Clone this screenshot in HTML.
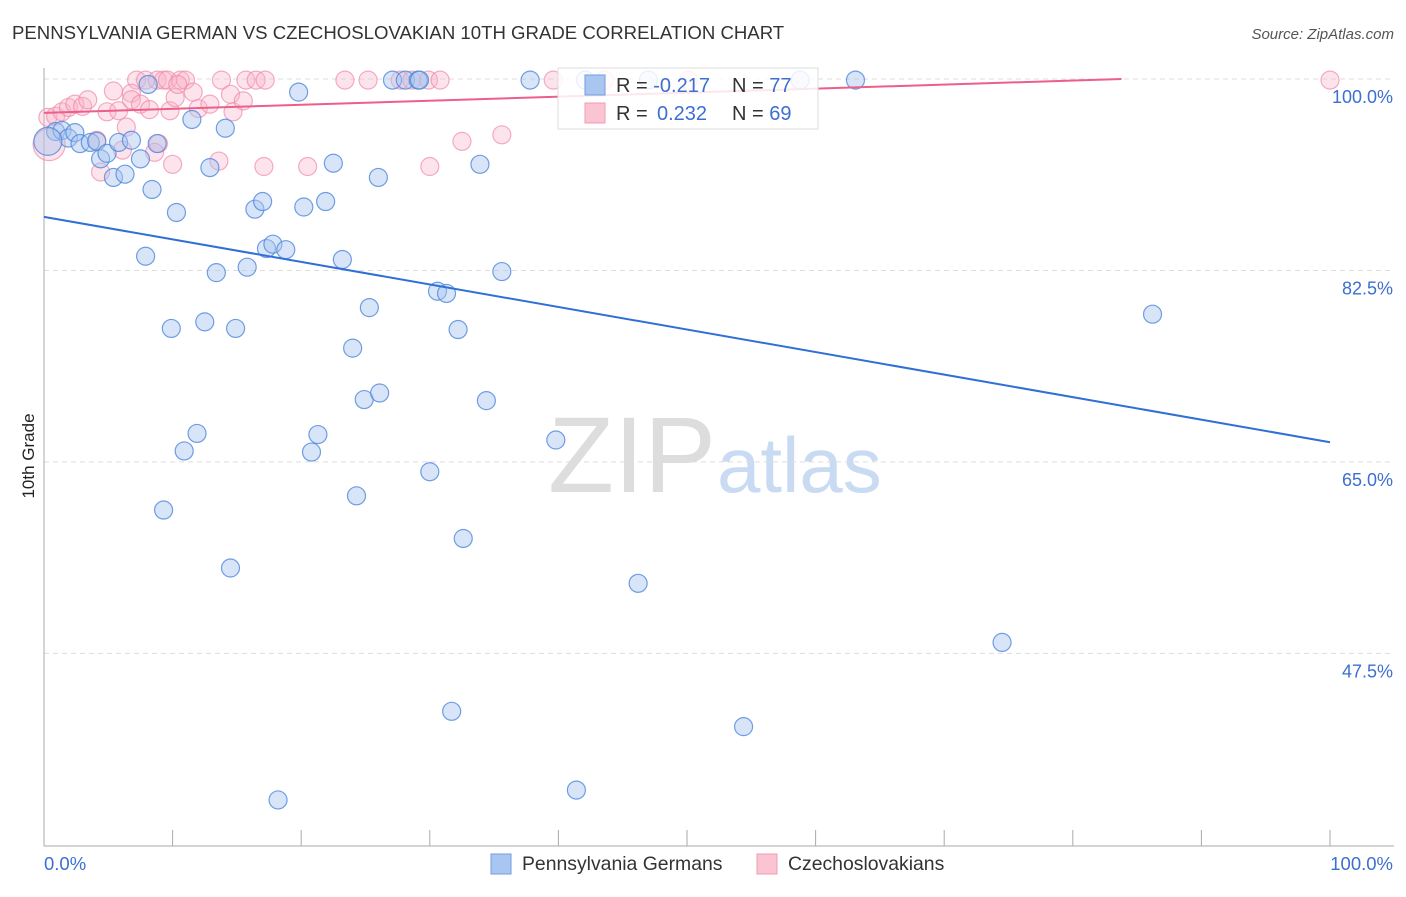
<!DOCTYPE html>
<html><head><meta charset="utf-8"><style>
body{margin:0;background:#fff;font-family:"Liberation Sans",sans-serif}
svg text{font-family:"Liberation Sans",sans-serif}
</style></head><body>
<svg id="chart" width="1406" height="892" viewBox="0 0 1406 892" xmlns="http://www.w3.org/2000/svg">
<text x="12" y="39" font-size="18.6" fill="#333">PENNSYLVANIA GERMAN VS CZECHOSLOVAKIAN 10TH GRADE CORRELATION CHART</text>
<text x="1394" y="39" font-size="15" fill="#555" text-anchor="end" font-style="italic">Source: ZipAtlas.com</text>
<text x="716" y="492" font-size="108" fill="#ddd" text-anchor="end" font-family="Liberation Serif">ZIP</text>
<text x="717" y="492" font-size="78" fill="#c9dbf2">atlas</text>
<g id="grid"></g>
<g id="axes"></g>
<g id="pts"></g>
<g id="lines"></g>
<text transform="translate(34,456) rotate(-90)" font-size="17" fill="#222" text-anchor="middle">10th Grade</text>
<g>
<rect x="558" y="68" width="260" height="61" fill="#fff" fill-opacity="0.85" stroke="#ddd"/>
<rect x="585" y="75" width="20" height="20" fill="#a9c6f0" stroke="#6f9ee0"/>
<rect x="585" y="103" width="20" height="20" fill="#fbc4d3" stroke="#f09ab3"/>
<text x="616" y="92" font-size="20" fill="#333">R = <tspan fill="#3c6fd1">-0.217</tspan></text>
<text x="732" y="92" font-size="20" fill="#333">N = <tspan fill="#3c6fd1">77</tspan></text>
<text x="616" y="120" font-size="20" fill="#333">R = <tspan fill="#3c6fd1" x="657">0.232</tspan></text>
<text x="732" y="120" font-size="20" fill="#333">N = <tspan fill="#3c6fd1">69</tspan></text>
</g>
<g>
<rect x="491" y="854" width="20" height="20" fill="#a9c6f0" stroke="#6f9ee0"/>
<text x="522" y="870" font-size="19.4" fill="#333">Pennsylvania Germans</text>
<rect x="757" y="854" width="20" height="20" fill="#fbc4d3" stroke="#f09ab3"/>
<text x="788" y="870" font-size="19.4" fill="#333">Czechoslovakians</text>
</g>
</svg>
<script>
const yTicks=[100,82.5,65,47.5];
const yTickLabels=["100.0%","82.5%","65.0%","47.5%"];
const blueX=[0.9,1.4,1.9,2.4,2.8,3.6,4.1,4.4,4.9,5.4,5.8,6.3,6.8,7.5,8.1,8.4,8.8,10.3,11.5,12.9,14.1,13.4,9.9,12.5,14.9,7.9,15.8,16.4,17.0,17.3,17.8,18.8,19.8,20.2,21.9,22.5,23.2,24.0,25.3,24.9,26.1,26.0,27.1,28.1,29.1,29.2,30.6,31.3,32.2,33.9,34.4,35.6,37.8,39.8,11.9,10.9,9.3,14.5,20.8,21.3,24.3,30.0,32.6,31.7,46.2,54.4,41.4,18.2,47.0,58.8,63.1,74.5,86.2,42.1,0.3];
const blueY=[95.2,95.3,94.6,95.1,94.1,94.2,94.3,92.7,93.2,91.0,94.2,91.3,94.4,92.7,99.5,89.9,94.1,87.8,96.3,91.9,95.5,82.3,77.2,77.8,77.2,83.8,82.8,88.1,88.8,84.5,84.9,84.4,98.8,88.3,88.8,92.3,83.5,75.4,79.1,70.7,71.3,91.0,99.9,99.9,99.9,99.9,80.6,80.4,77.1,92.2,70.6,82.4,99.9,67.0,67.6,66.0,60.6,55.3,65.9,67.5,61.9,64.1,58.0,42.2,53.9,40.8,35.0,34.1,99.9,99.9,99.9,48.5,78.5,99.9,94.3];
const pinkX=[7.2,7.9,8.8,9.3,9.6,10.6,11.0,13.8,15.7,16.5,17.2,23.4,25.2,27.7,28.6,29.9,30.8,39.6,43.6,50.1,100,0.3,0.9,1.4,1.9,2.4,3.0,3.4,4.9,5.4,5.8,6.4,6.8,6.8,7.5,8.2,8.9,9.8,10.2,10.4,11.6,12.0,12.9,13.6,14.5,14.7,15.5,10.0,17.1,20.5,6.1,4.4,8.6,4.1,30.0,32.5,35.6,0.4];
const pinkY=[99.9,99.9,99.9,99.9,99.9,99.9,99.9,99.9,99.9,99.9,99.9,99.9,99.9,99.9,99.9,99.9,99.9,99.9,99.9,99.9,99.9,96.5,96.6,97.0,97.4,97.7,97.5,98.1,97.0,98.9,97.1,95.6,98.7,98.1,97.7,97.2,94.1,97.1,98.3,99.5,98.8,97.3,97.7,92.5,98.6,97.0,98.0,92.2,92.0,92.0,93.5,91.5,93.3,94.4,92.0,94.3,94.9,94.0];
const blueTrend=[87.4,66.8];
const pinkTrend=[96.9,100.6];
const NS="http://www.w3.org/2000/svg";
const X=v=>44+v*12.86, Y=v=>79+(100-v)*10.94;
function mk(tag,attrs,parent){const e=document.createElementNS(NS,tag);for(const k in attrs)e.setAttribute(k,attrs[k]);parent.appendChild(e);return e;}
const grid=document.getElementById('grid'),axes=document.getElementById('axes'),pts=document.getElementById('pts'),lines=document.getElementById('lines');
yTicks.forEach((t,i)=>{
 const l=mk('line',{x1:44,x2:1394,y1:Y(t),y2:Y(t),stroke:'#ddd','stroke-dasharray':'5,4'},grid);
 
 
 const tx=mk('text',{x:1393,y:Y(t)+24,'font-size':18,fill:'#3c6fd1','text-anchor':'end'},axes);
 tx.textContent=yTickLabels[i];
 
 
});
const ya=mk('line',{x1:44,x2:44,y1:68,y2:846,stroke:'#aaa'},axes);


const xa=mk('line',{x1:44,x2:1394,y1:846,y2:846,stroke:'#aaa'},axes);


for(let i=0;i<=10;i++){
 const t=mk('line',{x1:X(i*10),x2:X(i*10),y1:830,y2:846,stroke:'#aaa'},axes);
 
 
}
const xl0=mk('text',{x:44,y:870,'font-size':18.5,fill:'#3c6fd1'},axes);xl0.textContent='0.0%';


const xl1=mk('text',{x:1393,y:870,'font-size':18.5,fill:'#3c6fd1','text-anchor':'end'},axes);xl1.textContent='100.0%';


pinkX.forEach((v,i)=>{
 const r=i===pinkX.length-1?16:9;
 const c=mk('circle',{cx:X(v),cy:Y(pinkY[i]),r:r,fill:'#f9b3c8','fill-opacity':0.35,stroke:'#f08aa9','stroke-opacity':0.7,'stroke-width':1.2},pts);
 
 
});
blueX.forEach((v,i)=>{
 const r=i===blueX.length-1?14:9;
 const c=mk('circle',{cx:X(v),cy:Y(blueY[i]),r:r,fill:'#a9c6f0','fill-opacity':0.45,stroke:'#4f87dc','stroke-opacity':0.8,'stroke-width':1.2},pts);
 
 
});
const bl=mk('line',{x1:X(0),y1:Y(blueTrend[0]),x2:X(100),y2:Y(blueTrend[1]),stroke:'#2f6fd6','stroke-width':2},lines);


const pxEnd=(100-pinkTrend[0])/(pinkTrend[1]-pinkTrend[0])*100;
const pl=mk('line',{x1:X(0),y1:Y(pinkTrend[0]),x2:X(Math.min(100,pxEnd)),y2:Y(Math.min(100,pinkTrend[0]+(pinkTrend[1]-pinkTrend[0])*Math.min(100,pxEnd)/100)),stroke:'#eb5f8a','stroke-width':2},lines);


</script>
</body></html>
